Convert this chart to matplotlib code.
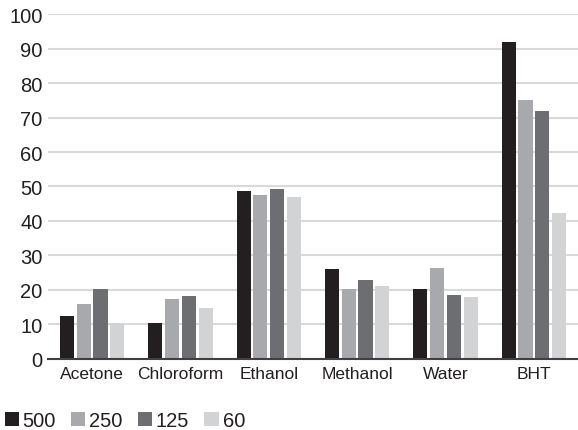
import matplotlib
matplotlib.use("Agg")
import matplotlib.pyplot as plt
from matplotlib.patches import Patch
from matplotlib import font_manager
import numpy as np

categories = ["Acetone", "Chloroform", "Ethanol", "Methanol", "Water", "BHT"]
series_names = ["500", "250", "125", "60"]
s500 = [12.4, 10.4, 48.7, 26.0, 20.2, 91.8]
s250 = [15.9, 17.5, 47.5, 20.2, 26.5, 75.2]
s125 = [20.2, 18.1, 49.2, 22.8, 18.5, 71.9]
s60 = [10.4, 14.7, 47.0, 21.0, 17.9, 42.4]
colors = ["#231f20", "#a7a9ac", "#6d6e71", "#d1d3d4"]

names = {f.name for f in font_manager.fontManager.ttflist}
base_font = "Liberation Sans" if "Liberation Sans" in names else "DejaVu Sans"
plt.rcParams["font.family"] = [base_font, "DejaVu Sans"]

fig = plt.figure(figsize=(5.78, 4.31), dpi=100)
ax = fig.add_axes([0.083, 0.165, 0.917, 0.80])

x = np.arange(len(categories))
width = 0.16
step = 0.19
for i, (vals, c, n) in enumerate(zip([s500, s250, s125, s60], colors, series_names)):
    ax.bar(x + (i - 1.5) * step, vals, width, color=c, label=n, zorder=3)

ax.set_xlim(-0.5, len(categories) - 0.5)
ax.set_ylim(0, 100)
ax.set_yticks(np.arange(0, 101, 10))
ax.yaxis.grid(True, color="#d9d9d9", linewidth=1.5, zorder=0)
ax.set_axisbelow(True)
for s in ["left", "right", "top"]:
    ax.spines[s].set_visible(False)
ax.spines["bottom"].set_color("#404040")
ax.spines["bottom"].set_linewidth(1.5)
ax.spines["bottom"].set_zorder(4)
ax.tick_params(axis="y", length=0, labelsize=14.5, labelcolor="#231f20", pad=4)
ax.tick_params(axis="x", length=0, pad=5)
ax.set_xticks(x)
ax.set_xticklabels(categories, fontsize=12.5, color="#231f20")

handles = [Patch(facecolor=c, edgecolor="none") for c in colors]
leg = fig.legend(handles, series_names, loc="lower left", bbox_to_anchor=(0.008, 0.0),
                 ncol=4, frameon=False, fontsize=14.5, handlelength=0.7, handleheight=0.7,
                 handletextpad=0.2, columnspacing=0.75, borderaxespad=0.0, borderpad=0.0)
for t in leg.get_texts():
    t.set_color("#231f20")

fig.savefig("out.png", dpi=100)
